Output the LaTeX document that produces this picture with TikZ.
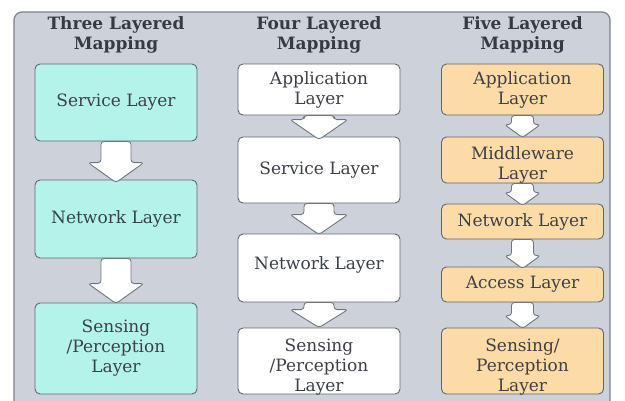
\documentclass[tikz,border=0pt]{standalone}
\usepackage{fontspec}
\setmainfont{DejaVu Serif}
\usetikzlibrary{calc}

\definecolor{panelfill}{HTML}{CDD2DA}
\definecolor{panelline}{HTML}{7D828A}
\definecolor{tealfill}{HTML}{B4F3EA}
\definecolor{orangefill}{HTML}{FDDBA6}
\definecolor{boxline}{HTML}{5F6670}
\definecolor{inktext}{HTML}{3C4048}

\tikzset{
  layerbox/.style={draw=boxline, line width=0.9pt, rounded corners=5pt,
    minimum width=162pt, inner sep=0pt, align=center, text=inktext,
    font=\fontsize{17}{20}\selectfont},
  teal/.style={layerbox, fill=tealfill},
  plain/.style={layerbox, fill=white},
  orange/.style={layerbox, fill=orangefill},
  lbl/.style={align=center, text=inktext, inner sep=0pt,
    font=\fontsize{17}{20}\selectfont},
  header/.style={align=center, text=inktext!90!black, inner sep=0pt,
    font=\fontsize{17}{20}\selectfont\bfseries},
  blockarrow/.style={draw=boxline!90, fill=white, line width=0.9pt,
    rounded corners=3pt, line join=round},
}

% block arrow from the bottom of #1 to the top of #2:
% shaft half width #3, head half width #4, head length #5, overlap #6
\newcommand\flowarrow[6]{%
  \path[blockarrow] let \p1=(#1.south), \p2=(#2.north) in
    (\x1-#3pt,\y1) -- (\x1-#3pt,\y2+#5pt-#6pt) -- (\x1-#4pt,\y2+#5pt-#6pt)
    -- (\x1,\y2-#6pt) -- (\x1+#4pt,\y2+#5pt-#6pt) -- (\x1+#3pt,\y2+#5pt-#6pt)
    -- (\x1+#3pt,\y1) -- cycle;}

\begin{document}
\begin{tikzpicture}[x=1pt, y=-1pt]
  \useasboundingbox (0,0) rectangle (625,400);

  % background panel, running off the lower edge
  \begin{scope}
    \clip (0,0) rectangle (625,400);
    \draw[fill=panelfill, draw=panelline, line width=1.2pt, rounded corners=8pt]
      (14,12) rectangle (610,430);
  \end{scope}

  % column headings
  \node[header] (h1) at (116,35) {Three Layered\\Mapping};
  \node[header] (h2) at (319,35) {Four Layered\\Mapping};
  \node[header] (h3) at (522.5,35) {Five Layered\\Mapping};

  % three layered mapping
  \node[teal, minimum height=77pt] (s1) at (116,102.5) {Service Layer};
  \node[teal, minimum height=78pt] (n1) at (116,219) {Network Layer};
  \node[teal, minimum height=91pt] (p1) at (116,348.5) {Sensing\\/Perception\\Layer};

  % four layered mapping
  \node[plain, minimum height=51pt] (a2) at (319,89.5) {Application\\Layer};
  \node[plain, minimum height=66pt] (s2) at (319,170) {Service Layer};
  \node[plain, minimum height=68pt] (n2) at (319,268) {};
  \node[lbl] (n2t) at ([yshift=3pt]n2.center) {Network Layer};
  \node[plain, minimum height=66pt] (p2) at (319,361) {};
  \node[lbl] (p2t) at ([yshift=-6pt]p2.center) {Sensing\\/Perception\\Layer};

  % five layered mapping
  \node[orange, minimum height=51pt] (a3) at (522.5,89.5) {Application\\Layer};
  \node[orange, minimum height=46pt] (m3) at (522.5,160) {};
  \node[lbl] (m3t) at ([yshift=-5pt]m3.center) {Middleware\\Layer};
  \node[orange, minimum height=35pt] (n3) at (522.5,221.5) {Network Layer};
  \node[orange, minimum height=35pt] (c3) at (522.5,284.5) {Access Layer};
  \node[orange, minimum height=66pt] (p3) at (522.5,361) {};
  \node[lbl] (p3t) at ([yshift=-6pt]p3.center) {Sensing/\\Perception\\Layer};

  % connectors
  \flowarrow{s1}{n1}{15}{28}{20}{3}
  \flowarrow{n1}{p1}{15}{28}{20}{1}
  \flowarrow{a2}{s2}{15}{29}{20}{3}
  \flowarrow{s2}{n2}{15}{29}{20}{1}
  \flowarrow{n2}{p2}{15}{29}{18}{0}
  \flowarrow{a3}{m3}{11}{18}{13}{1}
  \flowarrow{m3}{n3}{11}{18}{13}{2}
  \flowarrow{n3}{c3}{11}{18}{13}{2}
  \flowarrow{c3}{p3}{11}{18}{13}{1}
\end{tikzpicture}
\end{document}
